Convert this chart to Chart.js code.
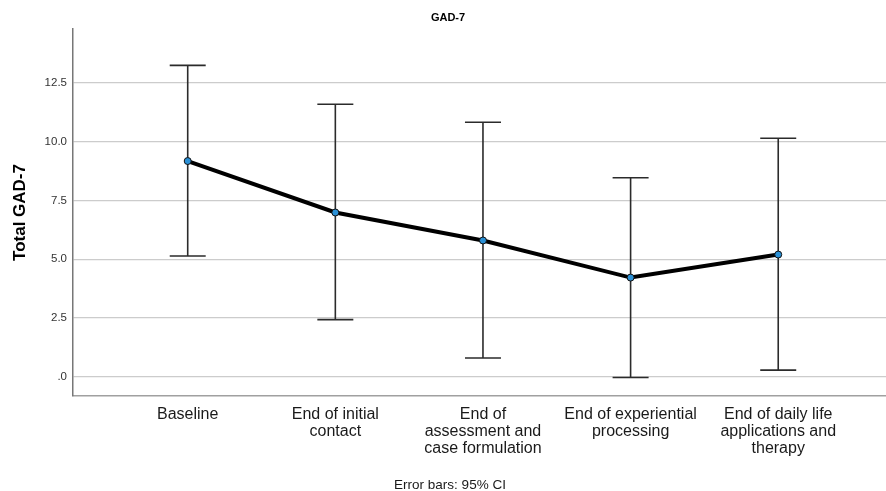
<!DOCTYPE html>
<html>
<head>
<meta charset="utf-8">
<script src="https://cdn.jsdelivr.net/npm/chart.js@4/dist/chart.umd.min.js"></script>
<style>
  html, body { margin: 0; padding: 0; background: #ffffff; }
  #wrap { width: 886px; height: 491px; }
</style>
</head>
<body>
<div id="wrap"><canvas id="c" width="886" height="491"></canvas></div>
<script>
// Assessment time points (multi-line axis labels)
const categories = [
  ["Baseline"],
  ["End of initial", "contact"],
  ["End of", "assessment and", "case formulation"],
  ["End of experiential", "processing"],
  ["End of daily life", "applications and", "therapy"]
];
// Mean total GAD-7 at each time point
const means = [9.18, 6.99, 5.8, 4.22, 5.2];
// 95% confidence interval bounds
const ciLower = [5.14, 2.43, 0.8, -0.03, 0.28];
const ciUpper = [13.25, 11.6, 10.83, 8.47, 10.15];
// Value-axis tick labels
const yTicks = [0, 2.5, 5, 7.5, 10, 12.5];

const FONT = "Arial, 'Liberation Sans', sans-serif";

// Error bars with caps, drawn beneath the mean line
const errorBars = {
  id: 'errorBars',
  beforeDatasetsDraw(chart) {
    const { ctx, scales: { x, y } } = chart;
    ctx.save();
    ctx.strokeStyle = '#2b2b2b';
    ctx.lineWidth = 1.6;
    const capHalf = 18;
    means.forEach((m, i) => {
      const px = x.getPixelForValue(i);
      const yTop = y.getPixelForValue(ciUpper[i]);
      const yBot = y.getPixelForValue(ciLower[i]);
      ctx.beginPath();
      ctx.moveTo(px, yTop); ctx.lineTo(px, yBot);
      ctx.moveTo(px - capHalf, yTop); ctx.lineTo(px + capHalf, yTop);
      ctx.moveTo(px - capHalf, yBot); ctx.lineTo(px + capHalf, yBot);
      ctx.stroke();
    });
    ctx.restore();
  }
};

// Title, axis title and footnote
const annotations = {
  id: 'annotations',
  afterDraw(chart) {
    const { ctx, chartArea } = chart;
    ctx.save();
    ctx.fillStyle = '#000';
    ctx.textAlign = 'center';
    ctx.textBaseline = 'middle';
    ctx.font = `bold 11px ${FONT}`;
    ctx.fillText('GAD-7', 448, 18);

    ctx.font = `13.5px ${FONT}`;
    ctx.fillStyle = '#1a1a1a';
    ctx.fillText('Error bars: 95% CI', 450, 485);

    ctx.translate(20, (chartArea.top + chartArea.bottom) / 2);
    ctx.rotate(-Math.PI / 2);
    ctx.font = `bold 17px ${FONT}`;
    ctx.fillStyle = '#000';
    ctx.fillText('Total GAD-7', 0, 0);
    ctx.restore();
  }
};

new Chart(document.getElementById('c'), {
  type: 'line',
  data: {
    datasets: [{
      data: means.map((m, i) => ({ x: i, y: m })),
      borderColor: '#000',
      borderWidth: 4,
      tension: 0,
      pointRadius: 3.5,
      pointBackgroundColor: '#2a90d6',
      pointBorderColor: '#111',
      pointBorderWidth: 1
    }]
  },
  options: {
    responsive: false,
    animation: false,
    layout: { autoPadding: false, padding: { top: 29, left: 0, right: 0, bottom: 0 } },
    plugins: { legend: { display: false }, tooltip: { enabled: false }, title: { display: false } },
    scales: {
      x: {
        type: 'linear',
        min: -0.777,
        max: 4.73,
        afterBuildTicks(scale) { scale.ticks = categories.map((c, i) => ({ value: i })); },
        afterFit(scale) { scale.height = 95; scale.paddingLeft = 0; scale.paddingRight = 0; },
        grid: { display: false },
        border: { display: true, color: '#a0a0a0', width: 1.5 },
        ticks: {
          padding: 2,
          maxRotation: 0,
          autoSkip: false,
          color: '#1a1a1a',
          font: { family: FONT, size: 16, lineHeight: 1.06 },
          callback: (v) => categories[v]
        }
      },
      y: {
        min: -0.82,
        max: 14.8,
        afterBuildTicks(scale) { scale.ticks = yTicks.map(v => ({ value: v })); },
        afterFit(scale) { scale.width = 73; scale.paddingTop = 0; scale.paddingBottom = 0; },
        grid: { color: '#cccccc', lineWidth: 1.2, drawTicks: false },
        border: { display: true, color: '#777777', width: 1.5 },
        ticks: {
          padding: 6,
          color: '#333',
          font: { family: FONT, size: 11.5 },
          callback: (v) => v === 0 ? '.0' : v.toFixed(1)
        }
      }
    }
  },
  plugins: [errorBars, annotations]
});
</script>
</body>
</html>
